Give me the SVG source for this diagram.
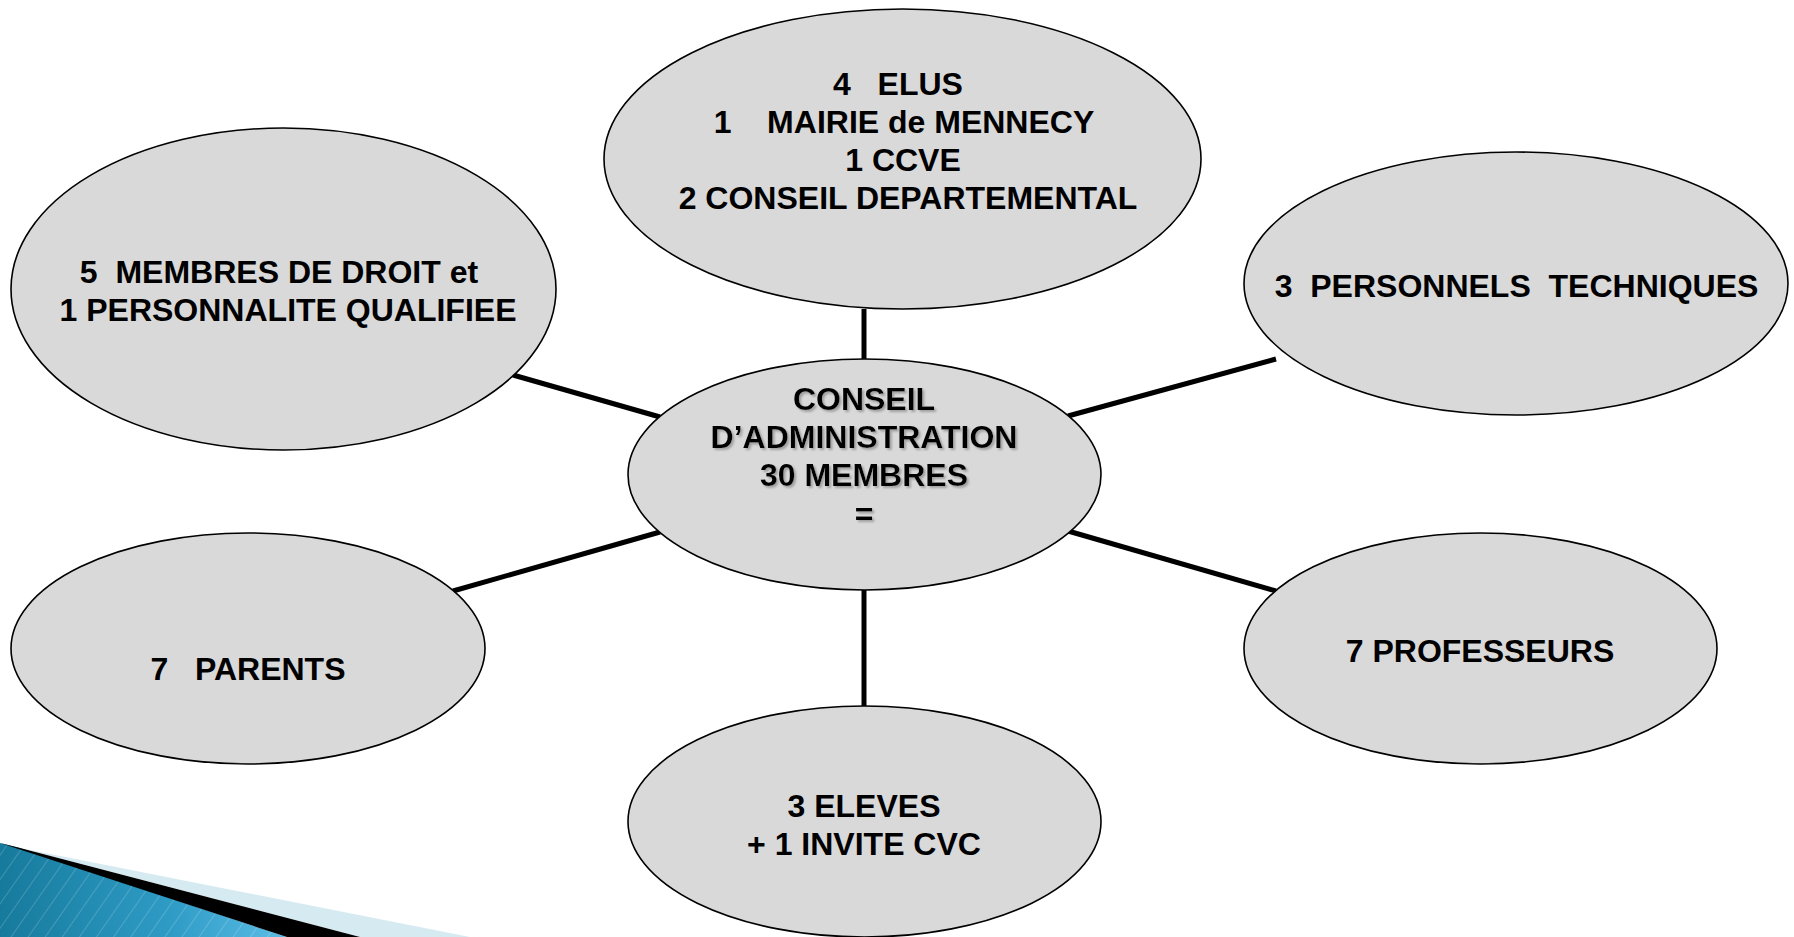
<svg xmlns="http://www.w3.org/2000/svg" width="1794" height="937" viewBox="0 0 1794 937">
<defs>
<style>
.node{fill:#d9d9d9;stroke:#000;stroke-width:1.6}
.lbl{font-family:"Liberation Sans",Arial,sans-serif;font-weight:bold;font-size:32px;fill:#000;text-anchor:middle;white-space:pre}
.conn line{stroke:#000;stroke-width:5}
</style>
<linearGradient id="blueGrad" x1="0" y1="0" x2="1" y2="0">
<stop offset="0" stop-color="#167a9c"/>
<stop offset="0.6" stop-color="#2f9cc6"/>
<stop offset="1" stop-color="#5cbde6"/>
</linearGradient>
<pattern id="stripes" width="14" height="14" patternUnits="userSpaceOnUse" patternTransform="rotate(35)">
<rect width="14" height="14" fill="none"/>
<line x1="0" y1="0" x2="0" y2="14" stroke="#ffffff" stroke-opacity="0.18" stroke-width="2"/>
</pattern>
<filter id="shadow" x="-10%" y="-20%" width="120%" height="140%">
<feDropShadow dx="2" dy="2" stdDeviation="1.2" flood-color="#9a9a9a" flood-opacity="0.9"/>
</filter>
</defs>
<rect width="1794" height="937" fill="#ffffff"/>

<g id="decoration">
<polygon points="20,848 470,937 360,937" fill="#d6eaf2"/>
<polygon points="0,843 20,848 287,937 0,937" fill="url(#blueGrad)"/>
<polygon points="0,843 20,848 287,937 0,937" fill="url(#stripes)"/>
<polygon points="0,843 20,848 360,937 287,937" fill="#000"/>
</g>

<g id="connectors" class="conn">
<line x1="864" y1="309" x2="864" y2="359"/>
<line x1="864" y1="590" x2="864" y2="706"/>
<line x1="513" y1="375" x2="660" y2="417"/>
<line x1="453" y1="591" x2="660" y2="532"/>
<line x1="1068" y1="416" x2="1276" y2="359"/>
<line x1="1068" y1="531" x2="1276" y2="591"/>
</g>

<g id="node-elus">
<ellipse class="node" cx="902.5" cy="159" rx="298.5" ry="150"/>
<text class="lbl" x="898" y="95">4   ELUS</text>
<text class="lbl" x="904" y="133">1    MAIRIE de MENNECY</text>
<text class="lbl" x="903" y="171">1 CCVE</text>
<text class="lbl" x="908" y="209">2 CONSEIL DEPARTEMENTAL</text>
</g>

<g id="node-membres">
<ellipse class="node" cx="283.5" cy="289" rx="272.5" ry="161"/>
<text class="lbl" x="279" y="283">5  MEMBRES DE DROIT et</text>
<text class="lbl" x="288" y="321">1 PERSONNALITE QUALIFIEE</text>
</g>

<g id="node-personnels">
<ellipse class="node" cx="1516" cy="283.5" rx="272" ry="131.5"/>
<text class="lbl" x="1516.5" y="297">3  PERSONNELS  TECHNIQUES</text>
</g>

<g id="node-center">
<ellipse class="node" cx="864.5" cy="474.5" rx="236.5" ry="115.5"/>
<g filter="url(#shadow)">
<text class="lbl" x="864" y="410">CONSEIL</text>
<text class="lbl" x="864" y="448">D’ADMINISTRATION</text>
<text class="lbl" x="864" y="486">30 MEMBRES</text>
<text class="lbl" x="864" y="525">=</text>
</g>
</g>

<g id="node-parents">
<ellipse class="node" cx="248" cy="648.5" rx="237" ry="115.5"/>
<text class="lbl" x="248" y="680">7   PARENTS</text>
</g>

<g id="node-professeurs">
<ellipse class="node" cx="1480.5" cy="648.5" rx="236.5" ry="115.5"/>
<text class="lbl" x="1480" y="662">7 PROFESSEURS</text>
</g>

<g id="node-eleves">
<ellipse class="node" cx="864.5" cy="821.5" rx="236.5" ry="115.5"/>
<text class="lbl" x="864" y="817">3 ELEVES</text>
<text class="lbl" x="864" y="855">+ 1 INVITE CVC</text>
</g>
</svg>
